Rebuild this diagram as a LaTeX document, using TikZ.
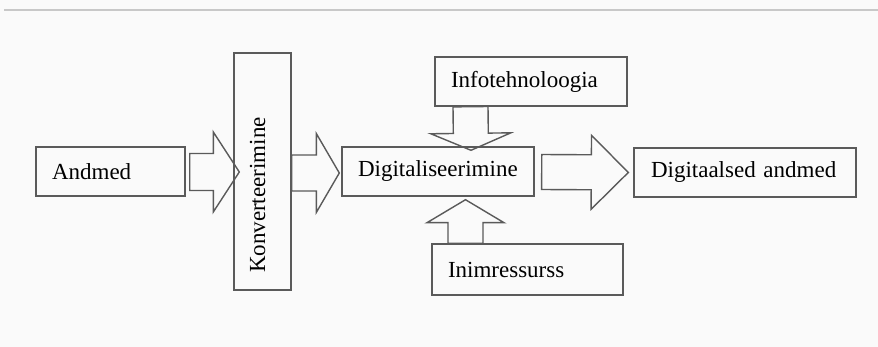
\documentclass[tikz,border=0pt]{standalone}
\usepackage{fontspec}
\setmainfont{Liberation Serif}
\usetikzlibrary{calc}
\definecolor{bg}{HTML}{FAFAFA}
\definecolor{edge}{HTML}{5A5A5A}
\definecolor{rule}{HTML}{C8C8C8}
\tikzset{
  box/.style={draw=edge, line width=1.4pt, rectangle, inner ysep=0pt, inner xsep=16pt,
    align=left, font=\fontsize{23}{27}\selectfont, text=black},
  blk/.style={draw=edge, line width=1.4pt, line join=miter}
}
% block arrow: #1 start, #2 tip, #3 shaft half width, #4 head half width, #5 head length
\newcommand{\blockarrow}[5]{%
  \draw[blk] ($(#1)!#3!90:(#2)$) -- ($($(#2)!#5!(#1)$)!#3!-90:(#1)$)
    -- ($($(#2)!#5!(#1)$)!#4!-90:(#1)$) -- (#2)
    -- ($($(#2)!#5!(#1)$)!#4!90:(#1)$) -- ($($(#2)!#5!(#1)$)!#3!90:(#1)$)
    -- ($(#1)!#3!-90:(#2)$) -- cycle;}
\begin{document}
\begin{tikzpicture}[x=1pt,y=-1pt]
\fill[bg] (0,0) rectangle (878,347);
\useasboundingbox (0,0) rectangle (878,347);
\draw[rule, line width=1.5pt] (4,10) -- (878,10);

\node[box, minimum width=149pt, minimum height=49pt, text width=117pt] (andmed) at (110.5,171.5) {Andmed};
\node[box, rotate=90, minimum width=237pt, minimum height=57pt, text width=203pt, inner xsep=17pt, text depth=10pt] (konv) at (262.5,171.5) {Konverteerimine};
\node[box, minimum width=192pt, minimum height=49pt, text width=160pt] (digi) at (438,171.5) {Digitaliseerimine};
\node[box, minimum width=192pt, minimum height=49pt, text width=160pt] (info) at (531,81.5) {Infotehnoloogia};
\node[box, minimum width=191pt, minimum height=51pt, text width=159pt] (inim) at (527.5,269.5) {Inimressurss};
\node[box, minimum width=220pt, minimum height=49pt, text width=188pt, inner xsep=17pt] (dandmed) at (745,172.5) {Digitaalsed andmed};

\coordinate (a1s) at ($(andmed.east)+(4,0.5)$);
\coordinate (a1t) at ($(konv.north)+(6,0.5)$);
\coordinate (a2s) at ($(konv.south)+(0,1.5)$);
\coordinate (a2t) at ($(digi.west)+(-2,1.5)$);
\coordinate (a3s) at ($(digi.east)+(7,0.5)$);
\coordinate (a3t) at ($(dandmed.west)+(-5,0)$);
\coordinate (a4s) at ($(info.south)+(-60.5,0)$);
\coordinate (a4t) at ($(digi.north)+(33,4)$);
\coordinate (a5s) at ($(inim.north)+(-62,0)$);
\coordinate (a5t) at ($(digi.south)+(27.5,3)$);

\blockarrow{a1s}{a1t}{18.5pt}{40pt}{26pt}
\blockarrow{a2s}{a2t}{18pt}{39.5pt}{23pt}
\blockarrow{a3s}{a3t}{17.5pt}{37pt}{37pt}
\blockarrow{a4s}{a4t}{17.5pt}{40pt}{17pt}
\blockarrow{a5s}{a5t}{17.5pt}{38.5pt}{23pt}
\end{tikzpicture}
\end{document}
